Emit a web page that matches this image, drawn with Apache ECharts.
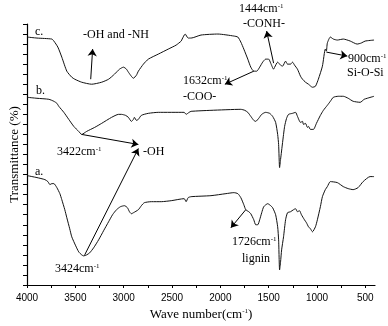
<!DOCTYPE html>
<html>
<head>
<meta charset="utf-8">
<script src="https://cdn.jsdelivr.net/npm/echarts@6/dist/echarts.min.js"></script>
<style>
html, body { margin: 0; padding: 0; background: #fff; }
#ftir { width: 388px; height: 326px; }
</style>
</head>
<body>
<div id="ftir"></div>
<script>
// 三条红外光谱曲线 [波数, 透过率(相对值)]
var curveC = [
    [4000, 247], [3897, 246], [3743, 245], [3722, 243], [3681, 237], [3640, 227], [3588, 213],
    [3537, 207], [3506, 205], [3434, 202], [3331, 200], [3228, 202], [3156, 205], [3095, 210],
    [3043, 215], [3002, 217], [2971, 215], [2951, 212], [2899, 206], [2868, 209], [2848, 213],
    [2796, 220], [2745, 225], [2642, 230], [2539, 235], [2457, 239], [2405, 243], [2395, 245],
    [2364, 250], [2333, 246], [2302, 246], [2200, 249], [2025, 250], [1860, 248], [1819, 247],
    [1788, 242], [1757, 235], [1716, 225], [1685, 217], [1654, 213], [1624, 213], [1593, 217],
    [1562, 222], [1531, 225], [1500, 225], [1479, 221], [1449, 215], [1438, 217], [1407, 222],
    [1377, 219], [1356, 218], [1325, 223], [1305, 220], [1274, 220], [1253, 222], [1232, 219],
    [1202, 215], [1171, 208], [1150, 205], [1119, 202], [1088, 200], [1047, 197], [1016, 198],
    [986, 205], [944, 218], [914, 235], [903, 233], [893, 241], [862, 247], [831, 245],
    [790, 244], [728, 245], [656, 243], [585, 240], [543, 241], [502, 243], [410, 244]
];
var curveB = [
    [4000, 187], [3897, 186], [3774, 185], [3722, 183], [3691, 181], [3671, 178], [3619, 172],
    [3568, 165], [3516, 158], [3465, 153], [3434, 150], [3383, 153], [3300, 157], [3228, 161],
    [3125, 167], [3053, 170], [3023, 170], [2981, 169], [2951, 167], [2920, 163], [2899, 165],
    [2889, 167], [2868, 164], [2848, 165], [2817, 169], [2745, 171], [2642, 172], [2374, 172],
    [2354, 170], [2323, 172], [2302, 173], [2097, 174], [1788, 175], [1747, 174], [1716, 172],
    [1685, 168], [1654, 164], [1634, 163], [1603, 166], [1572, 170], [1531, 172], [1490, 171],
    [1459, 168], [1428, 162], [1407, 150], [1397, 140], [1387, 117], [1377, 125], [1356, 142],
    [1335, 158], [1315, 166], [1294, 170], [1253, 171], [1222, 172], [1202, 168], [1171, 162],
    [1150, 163], [1140, 160], [1119, 161], [1099, 157], [1088, 158], [1068, 155], [1037, 155],
    [1006, 161], [965, 169], [934, 174], [893, 179], [862, 183], [831, 187], [780, 188],
    [728, 188], [677, 186], [626, 183], [553, 182], [512, 185], [481, 186], [410, 188]
];
var curveA = [
    [4000, 109], [3897, 107], [3815, 105], [3784, 103], [3763, 100], [3743, 101], [3722, 101],
    [3691, 97], [3660, 91], [3640, 85], [3609, 75], [3588, 67], [3558, 56], [3537, 48],
    [3496, 39], [3465, 33], [3434, 30], [3414, 29], [3383, 30], [3352, 32], [3311, 37],
    [3259, 45], [3208, 54], [3156, 63], [3115, 70], [3074, 75], [3033, 78], [2992, 79],
    [2961, 77], [2940, 73], [2920, 71], [2899, 72], [2848, 75], [2817, 79], [2786, 82],
    [2714, 83], [2611, 83], [2508, 84], [2374, 86], [2354, 83], [2333, 87], [2302, 88],
    [2097, 89], [1942, 91], [1860, 92], [1819, 91], [1788, 87], [1757, 80], [1737, 75],
    [1706, 73], [1685, 71], [1654, 65], [1634, 60], [1613, 60], [1593, 65], [1572, 72],
    [1551, 78], [1510, 81], [1479, 79], [1459, 77], [1428, 70], [1407, 58], [1397, 45],
    [1387, 15], [1377, 23], [1366, 35], [1346, 48], [1325, 65], [1305, 72], [1274, 73],
    [1243, 75], [1222, 76], [1202, 73], [1181, 74], [1161, 70], [1130, 65], [1109, 62],
    [1088, 58], [1068, 56], [1047, 53], [1016, 58], [996, 65], [965, 78], [944, 88],
    [914, 95], [893, 98], [862, 103], [790, 102], [728, 98], [677, 96], [626, 95],
    [575, 97], [523, 103], [451, 108], [410, 108]
];

// 坐标轴刻度
var xTickLabels = [4000, 3500, 3000, 2500, 2000, 1500, 1000, 500];
var xTicks = [4000, 3750, 3500, 3250, 3000, 2750, 2500, 2250, 2000, 1750, 1500, 1250, 1000, 750, 500];

// 标注箭头 [起点, 终点]
var arrows = [
    [[3341, 205], [3321, 235]],
    [[3434, 150], [2848, 140]],
    [[3403, 30], [2848, 136]],
    [[1449, 221], [1521, 253]],
    [[1654, 213], [1953, 200]],
    [[903, 232], [687, 228]],
    [[1737, 75], [1891, 57]]
];

var serif = '"Liberation Serif", "Times New Roman", serif';
var sup = { fontSize: 7, fontFamily: serif, verticalAlign: 'top', lineHeight: 8, fill: '#000' };

function label(x, y, text) {
    return {
        type: 'text',
        x: x,
        y: y,
        style: {
            text: text,
            font: '12px ' + serif,
            fill: '#000',
            verticalAlign: 'middle',
            rich: { s: sup }
        }
    };
}

var myChart = echarts.init(document.getElementById('ftir'));

var option = {
    animation: false,
    backgroundColor: '#fff',
    grid: { left: 25, right: 13, top: 24, bottom: 41 },
    xAxis: {
        type: 'value',
        inverse: true,
        min: 400,
        max: 4000,
        name: 'Wave number(cm{s|-1})',
        nameLocation: 'middle',
        nameGap: 23,
        nameTextStyle: {
            fontFamily: serif, fontSize: 13, color: '#000',
            rich: { s: { fontSize: 7, fontFamily: serif, verticalAlign: 'top', lineHeight: 8, color: '#000' } }
        },
        axisLine: { lineStyle: { color: '#000', width: 1.2 } },
        axisTick: { customValues: xTicks, length: 3, lineStyle: { color: '#000' } },
        axisLabel: {
            customValues: xTickLabels,
            margin: 8,
            fontFamily: '"Liberation Sans", Arial, sans-serif',
            fontSize: 10,
            color: '#000',
            formatter: function (v) { return String(v); }
        },
        splitLine: { show: false }
    },
    yAxis: {
        type: 'value',
        min: 0,
        max: 260,
        interval: 10,
        name: 'Transmittance (%)',
        nameLocation: 'middle',
        nameGap: 6,
        nameTextStyle: { fontFamily: serif, fontSize: 13, color: '#000' },
        axisLine: { show: true, lineStyle: { color: '#000', width: 1.2 } },
        axisTick: { length: 4, lineStyle: { color: '#000' } },
        axisLabel: { show: false },
        splitLine: { show: false }
    },
    series: [
        {
            name: 'c', type: 'line', data: curveC, smooth: 0.2, symbol: 'none',
            lineStyle: { color: '#111', width: 1 }
        },
        {
            name: 'b', type: 'line', data: curveB, smooth: 0.2, symbol: 'none',
            lineStyle: { color: '#111', width: 1 }
        },
        {
            name: 'a', type: 'line', data: curveA, smooth: 0.2, symbol: 'none',
            lineStyle: { color: '#111', width: 1 },
            markLine: {
                silent: true,
                symbol: ['none', 'arrow'],
                symbolSize: 7,
                label: { show: false },
                itemStyle: { color: '#000' },
                lineStyle: { color: '#000', width: 1, type: 'solid' },
                data: arrows.map(function (a) {
                    return [{ coord: a[0] }, { coord: a[1] }];
                })
            }
        }
    ],
    graphic: [
        label(35, 32, 'c.'),
        label(36, 91, 'b.'),
        label(35, 172, 'a.'),
        label(83, 35, '-OH and -NH'),
        label(57, 152, '3422cm{s|-1}'),
        label(143, 152, '-OH'),
        label(55, 269, '3424cm{s|-1}'),
        label(239, 9, '1444cm{s|-1}'),
        label(243, 24, '-CONH-'),
        label(183, 81, '1632cm{s|-1}'),
        label(183, 97, '-COO-'),
        label(348, 59, '900cm{s|-1}'),
        label(347, 73, 'Si-O-Si'),
        label(232, 242, '1726cm{s|-1}'),
        label(242, 259, 'lignin')
    ]
};

myChart.setOption(option);
window.onresize = function () {
    myChart.resize();
};
</script>
</body>
</html>
